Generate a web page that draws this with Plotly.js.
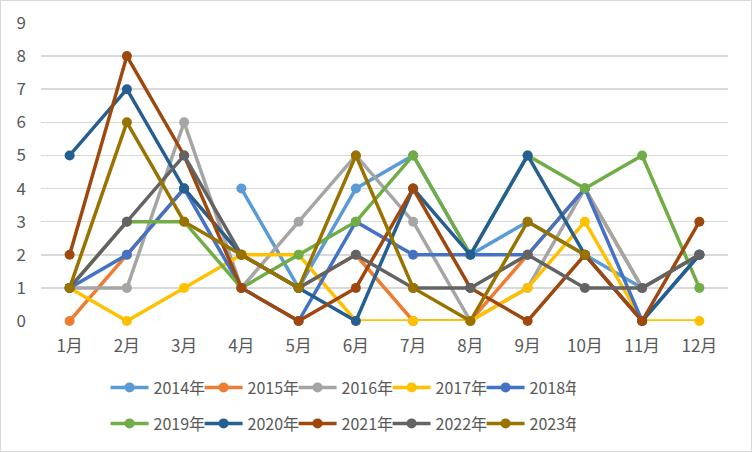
<!DOCTYPE html>
<html>
<head>
<meta charset="utf-8">
<script src="https://cdn.plot.ly/plotly-3.0.1.min.js"></script>
<style>
html,body{margin:0;padding:0;background:#fff;}
#chart{width:750px;height:450px;border:1px solid #d9d9d9;}
</style>
</head>
<body>
<div id="chart"></div>
<script>
const months = ["1月","2月","3月","4月","5月","6月","7月","8月","9月","10月","11月","12月"];
const seriesNames = ["2014年","2015年","2016年","2017年","2018年","2019年","2020年","2021年","2022年","2023年"];
const colors = ["#5B9BD5","#ED7D31","#A5A5A5","#FFC000","#4472C4","#70AD47","#255E91","#9E480E","#636363","#997300"];

const y2014 = [null,null,null,4,1,4,5,2,3,2,1,2];
const y2015 = [0,2,4,2,1,2,0,0,2,4,1,2];
const y2016 = [1,1,6,1,3,5,3,0,1,4,1,2];
const y2017 = [1,0,1,2,2,0,0,0,1,3,0,0];
const y2018 = [1,2,4,1,0,3,2,2,2,4,0,2];
const y2019 = [1,3,3,1,2,3,5,2,5,4,5,1];
const y2020 = [5,7,4,2,1,0,4,2,5,2,0,2];
const y2021 = [2,8,5,1,0,1,4,1,0,2,0,3];
const y2022 = [1,3,5,2,1,2,1,1,2,1,1,2];
const y2023 = [1,6,3,2,1,5,1,0,3,2,null,null];
const allY = [y2014,y2015,y2016,y2017,y2018,y2019,y2020,y2021,y2022,y2023];

const yTicks = [0,1,2,3,4,5,6,7,8,9];

const FONT = '"Noto Sans CJK JP", "Noto Sans", sans-serif';
const TXT = '#595959';

const traces = allY.map((ys, i) => ({
  type: 'scatter',
  mode: 'lines+markers',
  name: seriesNames[i],
  x: months,
  y: ys,
  connectgaps: false,
  cliponaxis: false,
  line: {color: colors[i], width: 3.5},
  marker: {color: colors[i], size: 10},
  legend: i < 5 ? 'legend' : 'legend2'
}));

const legendCommon = {
  orientation: 'h',
  xanchor: 'left',
  yanchor: 'middle',
  font: {family: FONT, size: 16, color: TXT},
  bgcolor: 'rgba(0,0,0,0)',
  itemwidth: 38,
  entrywidth: 41,
  entrywidthmode: 'pixels',
  traceorder: 'normal'
};

const layout = {
  width: 750,
  height: 450,
  margin: {l: 40.4, r: 23.4, t: 22.3, b: 129.3, pad: 0},
  paper_bgcolor: '#ffffff',
  plot_bgcolor: '#ffffff',
  showlegend: true,
  font: {family: FONT, size: 16, color: TXT},
  xaxis: {
    type: 'category',
    categoryorder: 'array',
    categoryarray: months,
    range: [-0.5, 11.5],
    showgrid: false,
    zeroline: false,
    showline: false,
    ticks: '',
    ticklabelstandoff: 13,
    tickfont: {family: FONT, size: 17, color: TXT},
    fixedrange: true
  },
  yaxis: {
    range: [0, 9],
    tickvals: yTicks,
    ticktext: yTicks.map(String),
    showgrid: true,
    gridcolor: '#d9d9d9',
    gridwidth: 1.5,
    zeroline: false,
    showline: false,
    ticks: '',
    ticklabelstandoff: 14,
    tickfont: {family: FONT, size: 17, color: TXT},
    fixedrange: true
  },
  legend: Object.assign({}, legendCommon, {x: 0.094, y: -0.219}),
  legend2: Object.assign({}, legendCommon, {x: 0.094, y: -0.3395})
};

Plotly.newPlot('chart', traces, layout, {displayModeBar: false, staticPlot: true});
</script>
</body>
</html>
